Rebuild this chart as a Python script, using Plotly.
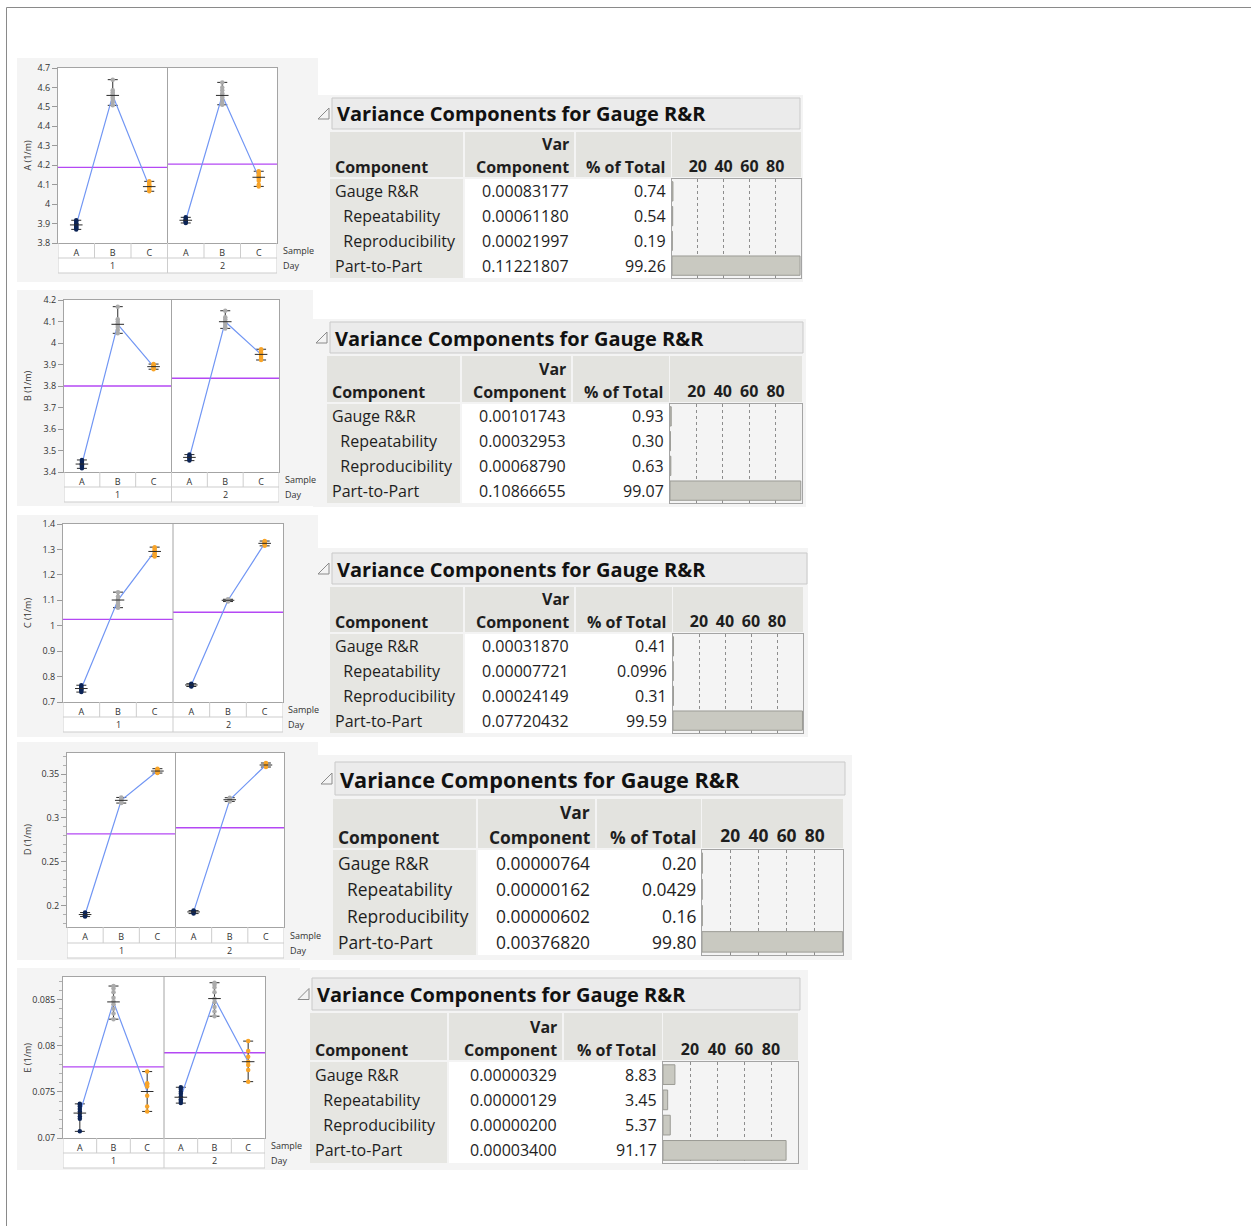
import plotly.graph_objects as go

W, H = 1251, 1226
def fx(p): return p / W
def fy(p): return 1 - p / H

FONT = "Open Sans"

# ---------------- data ----------------
samples = ["A", "B", "C"]
days = ["1", "2"]
sample_colors = ["#0c2456", "#ababab", "#f8a428"]
components = ["Gauge R&R", "\u00a0\u00a0Repeatability", "\u00a0\u00a0Reproducibility", "Part-to-Part"]
header_top = ["", "Var", ""]
header_bottom = ["Component", "Component", "% of Total"]
pct_ticks = [20, 40, 60, 80]
pct_ticktext = ["20", "40", "60", "80"]
table_title = "Variance Components for Gauge R&R"

# cells ordered Day1-A, Day1-B, Day1-C, Day2-A, Day2-B, Day2-C
A_points = [
    [3.917, 3.910, 3.902, 3.896, 3.890, 3.885, 3.880, 3.875, 3.870],
    [4.640, 4.585, 4.575, 4.565, 4.560, 4.550, 4.540, 4.525, 4.508],
    [4.117, 4.110, 4.100, 4.095, 4.090, 4.085, 4.075, 4.066],
    [3.932, 3.925, 3.920, 3.917, 3.912, 3.908, 3.903],
    [4.626, 4.600, 4.585, 4.570, 4.560, 4.550, 4.535, 4.520, 4.511],
    [4.169, 4.160, 4.150, 4.145, 4.140, 4.130, 4.120, 4.100, 4.091],
]
A_means = [3.893, 4.559, 4.090, 3.917, 4.559, 4.138]
A_day_means = [4.189, 4.206]
A_ticks = [3.8, 3.9, 4.0, 4.1, 4.2, 4.3, 4.4, 4.5, 4.6, 4.7]
A_ticktext = ["3.8", "3.9", "4", "4.1", "4.2", "4.3", "4.4", "4.5", "4.6", "4.7"]

B_points = [
    [3.456, 3.448, 3.440, 3.436, 3.430, 3.425, 3.417],
    [4.169, 4.110, 4.100, 4.090, 4.085, 4.075, 4.060, 4.045],
    [3.902, 3.896, 3.892, 3.888, 3.884, 3.878],
    [3.481, 3.474, 3.470, 3.466, 3.460, 3.453],
    [4.150, 4.120, 4.110, 4.100, 4.095, 4.085, 4.075, 4.068],
    [3.971, 3.965, 3.955, 3.948, 3.940, 3.930, 3.921],
]
B_means = [3.437, 4.087, 3.890, 3.468, 4.099, 3.947]
B_day_means = [3.800, 3.836]
B_ticks = [3.4, 3.5, 3.6, 3.7, 3.8, 3.9, 4.0, 4.1, 4.2]
B_ticktext = ["3.4", "3.5", "3.6", "3.7", "3.8", "3.9", "4", "4.1", "4.2"]

C_points = [
    [0.766, 0.760, 0.755, 0.750, 0.745, 0.739],
    [1.132, 1.115, 1.105, 1.100, 1.090, 1.080, 1.071],
    [1.309, 1.303, 1.297, 1.290, 1.283, 1.277, 1.272],
    [0.772, 0.769, 0.766, 0.763, 0.761],
    [1.104, 1.101, 1.099, 1.095],
    [1.333, 1.328, 1.324, 1.320, 1.314],
]
C_means = [0.753, 1.101, 1.292, 0.767, 1.100, 1.324]
C_day_means = [1.025, 1.053]
C_ticks = [0.7, 0.8, 0.9, 1.0, 1.1, 1.2, 1.3, 1.4]
C_ticktext = ["0.7", "0.8", "0.9", "1", "1.1", "1.2", "1.3", "1.4"]

D_points = [
    [0.1920, 0.1905, 0.1898, 0.1890, 0.1882, 0.1874],
    [0.3233, 0.3215, 0.3205, 0.3195, 0.3180, 0.3169],
    [0.3561, 0.3550, 0.3540, 0.3530, 0.3520, 0.3511],
    [0.1942, 0.1935, 0.1928, 0.1920, 0.1908],
    [0.3230, 0.3215, 0.3207, 0.3200, 0.3188],
    [0.3626, 0.3615, 0.3605, 0.3595, 0.3580],
]
D_means = [0.1897, 0.3200, 0.3534, 0.1927, 0.3207, 0.3603]
D_day_means = [0.2818, 0.2887]
D_ticks = [0.2, 0.25, 0.3, 0.35]
D_ticktext = ["0.2", "0.25", "0.3", "0.35"]

E_points = [
    [0.07370, 0.07360, 0.07342, 0.07313, 0.07288, 0.07263, 0.07234, 0.07209, 0.07072],
    [0.08647, 0.08620, 0.08580, 0.08520, 0.08480, 0.08450, 0.08400, 0.08350, 0.08288],
    [0.07720, 0.07594, 0.07576, 0.07558, 0.07457, 0.07342, 0.07288],
    [0.07550, 0.07530, 0.07500, 0.07480, 0.07450, 0.07420, 0.07400, 0.07378],
    [0.08683, 0.08660, 0.08630, 0.08580, 0.08510, 0.08470, 0.08420, 0.08370, 0.08320],
    [0.08050, 0.07942, 0.07881, 0.07827, 0.07791, 0.07737, 0.07611],
]
E_means = [0.07270, 0.08475, 0.07504, 0.07442, 0.08511, 0.07827]
E_day_means = [0.07770, 0.07924]
E_ticks = [0.07, 0.075, 0.08, 0.085]
E_ticktext = ["0.07", "0.075", "0.08", "0.085"]

T1_var = ["0.00083177", "0.00061180", "0.00021997", "0.11221807"]
T1_pct = ["0.74", "0.54", "0.19", "99.26"]
T2_var = ["0.00101743", "0.00032953", "0.00068790", "0.10866655"]
T2_pct = ["0.93", "0.30", "0.63", "99.07"]
T3_var = ["0.00031870", "0.00007721", "0.00024149", "0.07720432"]
T3_pct = ["0.41", "0.0996", "0.31", "99.59"]
T4_var = ["0.00000764", "0.00000162", "0.00000602", "0.00376820"]
T4_pct = ["0.20", "0.0429", "0.16", "99.80"]
T5_var = ["0.00000329", "0.00000129", "0.00000200", "0.00003400"]
T5_pct = ["8.83", "3.45", "5.37", "91.17"]

# ---------------- geometry (pixels) ----------------
charts = [
    dict(title="A (1/m)", pts=A_points, means=A_means, dm=A_day_means, tv=A_ticks, tt=A_ticktext,
         yr=[3.8, 4.7], minor=None, L=58, R=277, T=68, B=243, sb=258, db=273, lab=281, bg=(17, 58, 318, 282)),
    dict(title="B (1/m)", pts=B_points, means=B_means, dm=B_day_means, tv=B_ticks, tt=B_ticktext,
         yr=[3.4, 4.2], minor=None, L=64, R=279, T=300, B=472, sb=487, db=502, lab=283, bg=(17, 290, 313, 506)),
    dict(title="C (1/m)", pts=C_points, means=C_means, dm=C_day_means, tv=C_ticks, tt=C_ticktext,
         yr=[0.7, 1.4], minor=None, L=63, R=283, T=524, B=702, sb=717, db=732, lab=286, bg=(17, 515, 318, 737)),
    dict(title="D (1/m)", pts=D_points, means=D_means, dm=D_day_means, tv=D_ticks, tt=D_ticktext,
         yr=[0.1755, 0.374], minor=0.01, L=67, R=284, T=753, B=927, sb=943, db=958, lab=288, bg=(17, 742, 318, 960)),
    dict(title="E (1/m)", pts=E_points, means=E_means, dm=E_day_means, tv=E_ticks, tt=E_ticktext,
         yr=[0.07, 0.08745], minor=0.001, L=63, R=265, T=977, B=1138, sb=1153, db=1168, lab=269, bg=(17, 968, 300, 1170)),
]

tables = [
    dict(var=T1_var, pct=T1_pct, cols=[330, 465, 576, 672, 801], ht=132, hb=179, db=278, fs=16, tfs=20,
         title=(332, 98, 800, 129), bg=(318, 95, 803, 282)),
    dict(var=T2_var, pct=T2_pct, cols=[327, 462, 573, 670, 802], ht=356, hb=404, db=503, fs=16, tfs=20,
         title=(330, 322, 803, 353), bg=(313, 319, 806, 507)),
    dict(var=T3_var, pct=T3_pct, cols=[330, 465, 576, 673, 803], ht=587, hb=634, db=733, fs=16, tfs=20,
         title=(332, 553, 807, 584), bg=(318, 548, 808, 737)),
    dict(var=T4_var, pct=T4_pct, cols=[333, 478, 597, 702, 843], ht=799, hb=850, db=955, fs=17.4, tfs=21.7,
         title=(335, 762, 845, 795), bg=(318, 755, 852, 960)),
    dict(var=T5_var, pct=T5_pct, cols=[310, 449, 564, 663, 798], ht=1013, hb=1062, db=1163, fs=16, tfs=20,
         title=(312, 978, 800, 1010), bg=(300, 970, 808, 1170)),
]

BG = "#f4f4f4"
HDR = "#e3e3df"
COL1 = "#e6e6e2"
GRIDC = "#cdcdcd"
AXC = "#a4a4a4"
TXT = "#1e1e1e"
BLUE = "#7196f4"
PURPLE = "#b448f4"

fig = go.Figure()
shapes = []
annotations = []
layout = {}

def rect(x0, y0, x1, y1, fill, line=None, lw=1):
    return dict(type="rect", xref="paper", yref="paper", x0=fx(x0), x1=fx(x1), y0=fy(y1), y1=fy(y0),
                fillcolor=fill, line=dict(color=line or "rgba(0,0,0,0)", width=lw if line else 0), layer="below")

# outer border
shapes.append(dict(type="line", xref="paper", yref="paper", x0=fx(6.5), x1=1, y0=fy(7.5), y1=fy(7.5),
                   line=dict(color="#8a8a8a", width=1)))
shapes.append(dict(type="line", xref="paper", yref="paper", x0=fx(6.5), x1=fx(6.5), y0=0, y1=fy(7.5),
                   line=dict(color="#8a8a8a", width=1)))

for c in charts:
    shapes.append(rect(*c["bg"], BG))
for t in tables:
    shapes.append(rect(*t["bg"], BG))
for c in charts:
    shapes.append(rect(c["L"], c["T"], c["R"], c["B"], "white"))
    shapes.append(rect(c["L"], c["B"], c["R"], c["db"], "white"))

nS = len(samples)
ncell = nS * len(days)
small = dict(size=9, color="#333", family=FONT)

# ---------------- variability charts ----------------
for k, c in enumerate(charts, start=1):
    xa = "x" if k == 1 else f"x{k}"
    ya = "y" if k == 1 else f"y{k}"
    xkey = "xaxis" if k == 1 else f"xaxis{k}"
    ykey = "yaxis" if k == 1 else f"yaxis{k}"
    cell_x = list(range(ncell))

    px_, py_ = [], []
    for d in range(len(days)):
        px_ += [d * nS - 0.5, d * nS + nS - 0.5, None]
        py_ += [c["dm"][d], c["dm"][d], None]
    fig.add_trace(go.Scatter(x=px_, y=py_, mode="lines", line=dict(color=PURPLE, width=1.3),
                             xaxis=xa, yaxis=ya, hoverinfo="skip", showlegend=False))

    mins = [min(p) for p in c["pts"]]
    maxs = [max(p) for p in c["pts"]]
    fig.add_trace(go.Scatter(
        x=cell_x, y=c["means"], mode="markers",
        marker=dict(size=1, color="rgba(0,0,0,0)"),
        error_y=dict(type="data", symmetric=False,
                     array=[mx - m for mx, m in zip(maxs, c["means"])],
                     arrayminus=[m - mn for mn, m in zip(mins, c["means"])],
                     color="#2a2a2a", thickness=1, width=5),
        xaxis=xa, yaxis=ya, hoverinfo="skip", showlegend=False))

    lx, ly = [], []
    for d in range(len(days)):
        for s in range(nS):
            lx.append(d * nS + s)
            ly.append(c["means"][d * nS + s])
        lx.append(None)
        ly.append(None)
    fig.add_trace(go.Scatter(x=lx, y=ly, mode="lines", line=dict(color=BLUE, width=1.2),
                             xaxis=xa, yaxis=ya, hoverinfo="skip", showlegend=False))

    for i, p in enumerate(c["pts"]):
        fig.add_trace(go.Scatter(x=[i] * len(p), y=p, mode="markers",
                                 marker=dict(size=4.5, color=sample_colors[i % nS]),
                                 xaxis=xa, yaxis=ya, hoverinfo="skip", showlegend=False))

    fig.add_trace(go.Scatter(x=cell_x, y=c["means"], mode="markers",
                             marker=dict(symbol="line-ew", size=9, line=dict(color="#2a2a2a", width=1)),
                             xaxis=xa, yaxis=ya, hoverinfo="skip", showlegend=False))

    layout[xkey] = dict(domain=[fx(c["L"]), fx(c["R"])], range=[-0.5, ncell - 0.5], anchor=ya,
                        tickvals=cell_x, ticktext=samples * len(days), ticks="outside", ticklen=1,
                        tickcolor="rgba(0,0,0,0)", tickfont=small, automargin=False,
                        showline=True, mirror=True, linecolor=AXC, showgrid=False, zeroline=False, fixedrange=True)
    ydict = dict(domain=[fy(c["B"]), fy(c["T"])], range=c["yr"], anchor=xa,
                 tickvals=c["tv"], ticktext=c["tt"], ticks="outside", ticklen=5, tickcolor="#9a9a9a",
                 tickfont=small, automargin=False,
                 showline=True, mirror=True, linecolor=AXC, showgrid=False, zeroline=False, fixedrange=True)
    if c["minor"]:
        ydict["minor"] = dict(tick0=0, dtick=c["minor"], ticks="outside", ticklen=3, tickcolor="#b0b0b0")
    layout[ykey] = ydict

    for d in range(1, len(days)):
        shapes.append(dict(type="line", xref=xa, yref="paper", x0=d * nS - 0.5, x1=d * nS - 0.5,
                           y0=fy(c["B"]), y1=fy(c["T"]), line=dict(color=AXC, width=1)))
    shapes.append(dict(type="line", xref="paper", yref="paper", x0=fx(c["L"]), x1=fx(c["R"]),
                       y0=fy(c["sb"]), y1=fy(c["sb"]), line=dict(color=GRIDC, width=1)))
    shapes.append(dict(type="line", xref="paper", yref="paper", x0=fx(c["L"]), x1=fx(c["R"]),
                       y0=fy(c["db"]), y1=fy(c["db"]), line=dict(color=GRIDC, width=1)))
    for d in range(len(days) + 1):
        xb = d * nS - 0.5
        shapes.append(dict(type="line", xref=xa, yref="paper", x0=xb, x1=xb,
                           y0=fy(c["db"]), y1=fy(c["B"]), line=dict(color=GRIDC, width=1)))
    for d in range(len(days)):
        for s in range(1, nS):
            xb = d * nS + s - 0.5
            shapes.append(dict(type="line", xref=xa, yref="paper", x0=xb, x1=xb,
                               y0=fy(c["sb"]), y1=fy(c["B"]), line=dict(color=GRIDC, width=1)))
    for d, dl in enumerate(days):
        annotations.append(dict(text=dl, x=d * nS + (nS - 1) / 2, y=fy((c["sb"] + c["db"]) / 2),
                                xref=xa, yref="paper", showarrow=False, xanchor="center", yanchor="middle",
                                font=small))
    annotations.append(dict(text="Sample", x=fx(c["lab"]), y=fy((c["B"] + c["sb"]) / 2), xref="paper", yref="paper",
                            showarrow=False, xanchor="left", yanchor="middle", font=small))
    annotations.append(dict(text="Day", x=fx(c["lab"]), y=fy((c["sb"] + c["db"]) / 2), xref="paper", yref="paper",
                            showarrow=False, xanchor="left", yanchor="middle", font=small))
    annotations.append(dict(text=c["title"], x=fx(27), y=fy((c["T"] + c["B"]) / 2), xref="paper", yref="paper",
                            showarrow=False, textangle=-90, xanchor="center", yanchor="middle", font=small))

# ---------------- tables ----------------
nR = len(components)
for j, t in enumerate(tables):
    n = 6 + j
    xa, ya = f"x{n}", f"y{n}"
    cl = t["cols"]
    fs = t["fs"]
    cell_font = dict(family=FONT, size=fs, color=TXT)
    head_font = dict(family=FONT, size=fs, color=TXT, weight="bold")

    tx0, ty0, tx1, ty1 = t["title"]
    shapes.append(rect(tx0, ty0, tx1, ty1, "#ebebeb", "#c9c9c9", 1))
    tri = 11
    cy = (ty0 + ty1) / 2
    shapes.append(dict(type="path", xref="paper", yref="paper",
                       path=f"M {fx(tx0-14)} {fy(cy+tri/2)} L {fx(tx0-14+tri)} {fy(cy+tri/2)} L {fx(tx0-14+tri)} {fy(cy-tri/2)} Z",
                       line=dict(color="#8a8a8a", width=1), fillcolor="rgba(0,0,0,0)"))
    annotations.append(dict(text=table_title, x=fx(tx0 + 3), y=fy(cy + 0.5),
                            xref="paper", yref="paper", showarrow=False, xanchor="left", yanchor="middle",
                            font=dict(size=t["tfs"], color="#111", family=FONT, weight="bold")))

    col_l = [cl[0], cl[1], cl[2], cl[3]]
    col_r = [cl[1] - 2, cl[2] - 2, cl[3] - 1, cl[4]]
    for ci in range(4):
        shapes.append(rect(col_l[ci], t["ht"], col_r[ci], t["hb"] - 2, HDR))
    shapes.append(rect(cl[0], t["hb"], cl[1] - 2, t["db"], COL1))
    shapes.append(rect(cl[1], t["hb"], cl[3] - 1, t["db"], "white"))

    aligns = ["left", "right", "right"]
    for ci in range(3):
        xpos = fx(col_l[ci]) if aligns[ci] == "left" else fx(col_r[ci])
        xs = 3 if aligns[ci] == "left" else -3
        for txt, off in ((header_top[ci], 2.2 * fs), (header_bottom[ci], 0.75 * fs)):
            if txt:
                annotations.append(dict(text=txt, x=xpos, xshift=xs, y=fy(t["hb"] - off), xref="paper",
                                        yref="paper", showarrow=False, xanchor=aligns[ci], yanchor="middle",
                                        font=head_font))
    cols_vals = [components, t["var"], t["pct"]]
    for ci in range(3):
        xpos = fx(col_l[ci]) if aligns[ci] == "left" else fx(col_r[ci])
        xs = 3 if aligns[ci] == "left" else -3
        for r, txt in enumerate(cols_vals[ci]):
            annotations.append(dict(text=txt, x=xpos, xshift=xs, y=r, xref="paper", yref=ya,
                                    showarrow=False, xanchor=aligns[ci], yanchor="middle", font=cell_font))

    fig.add_trace(go.Bar(x=[float(v) for v in t["pct"]], y=list(range(nR)), orientation="h",
                         width=0.78, marker=dict(color="#c9c9c1", line=dict(color="#9b9b95", width=1)),
                         xaxis=xa, yaxis=ya, hoverinfo="skip", showlegend=False))
    layout[f"xaxis{n}"] = dict(domain=[fx(cl[3]), fx(cl[4])], range=[0, 100], anchor=ya, side="top",
                               tickvals=pct_ticks, ticktext=pct_ticktext, ticks="",
                               tickfont=head_font, automargin=False,
                               showgrid=True, gridcolor="#8d8d8d", griddash="dot", gridwidth=1,
                               showline=True, mirror=True, linecolor=AXC, zeroline=False, fixedrange=True)
    layout[f"yaxis{n}"] = dict(domain=[fy(t["db"]), fy(t["hb"])], range=[nR - 0.5, -0.5],
                               anchor=xa, showticklabels=False, showgrid=False, ticks="", automargin=False,
                               showline=True, mirror=True, linecolor=AXC, zeroline=False, fixedrange=True)

fig.update_layout(
    width=W, height=H, autosize=False,
    margin=dict(l=0, r=0, t=0, b=0, pad=0, autoexpand=False),
    paper_bgcolor="white", plot_bgcolor="rgba(0,0,0,0)",
    showlegend=False, font=dict(family=FONT, color=TXT),
    shapes=shapes, annotations=annotations, bargap=0.2,
    **layout,
)
fig.write_html(
    "out.html",
    config={"displayModeBar": False, "responsive": False},
    post_script=(
        "document.documentElement.style.margin='0';document.documentElement.style.padding='0';"
        "document.body.style.margin='0';document.body.style.padding='0';"
        "document.documentElement.style.overflow='hidden';document.body.style.overflow='hidden';"
        "var gd=document.getElementById('{plot_id}');"
        "gd.style.position='fixed';gd.style.top='0px';gd.style.left='0px';"
    ),
)
